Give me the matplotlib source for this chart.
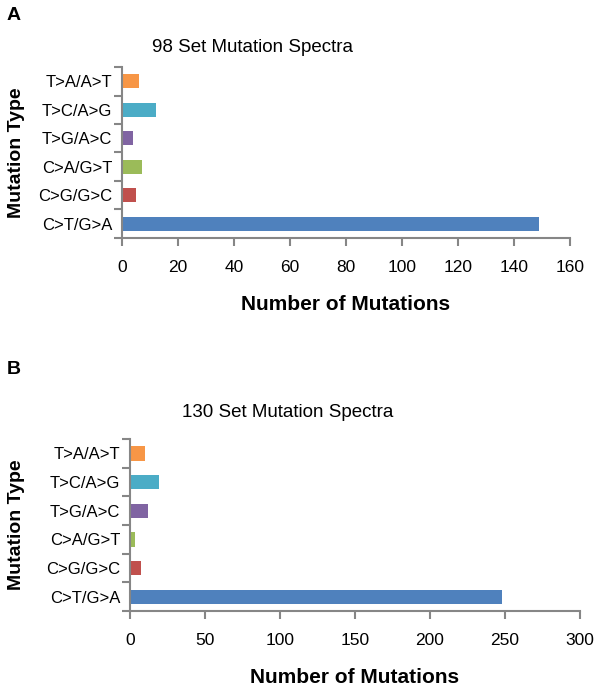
import matplotlib
matplotlib.use("Agg")
import matplotlib.pyplot as plt
import numpy as np

plt.rcParams['font.family'] = ['Liberation Sans', 'DejaVu Sans']

categories = ["C>T/G>A", "C>G/G>C", "C>A/G>T", "T>G/A>C", "T>C/A>G", "T>A/A>T"]
colors = ["#4F81BD", "#C0504D", "#9BBB59", "#8064A2", "#4BACC6", "#F79646"]
values_98 = [149, 5, 7, 4, 12, 6]
values_130 = [248, 7, 3, 12, 19, 10]
ticks_98 = [0, 20, 40, 60, 80, 100, 120, 140, 160]
ticks_130 = [0, 50, 100, 150, 200, 250, 300]

W, H = 600, 688
fig = plt.figure(figsize=(W / 100, H / 100), dpi=100)

spine_col = "#868686"

def px(x0, y0, x1, y1):
    return [x0 / W, 1 - y1 / H, (x1 - x0) / W, (y1 - y0) / H]

def panel(rect, values, xticks, title, title_x, title_y, letter, letter_y, ylab_x):
    ax = fig.add_axes(rect)
    y = np.arange(len(categories))
    ax.barh(y, values, height=0.5, color=colors)
    ax.set_xlim(xticks[0], xticks[-1])
    ax.set_ylim(-0.5, len(categories) - 0.5)
    ax.set_xticks(xticks)
    ax.set_xticklabels([str(t) for t in xticks], fontsize=12.5)
    ax.set_yticks(y)
    ax.set_yticklabels(categories, fontsize=12)
    ax.set_yticks(np.arange(-0.5, len(categories), 1.0), minor=True)
    ax.tick_params(axis='y', which='major', length=0, pad=7)
    ax.tick_params(axis='y', which='minor', length=6, width=1.5, color=spine_col, direction='out')
    ax.tick_params(axis='x', which='major', length=6, width=1.5, color=spine_col, direction='out', pad=10)
    for s in ['top', 'right']:
        ax.spines[s].set_visible(False)
    for s in ['left', 'bottom']:
        ax.spines[s].set_color(spine_col)
        ax.spines[s].set_linewidth(1.5)
    ax.set_xlabel("Number of Mutations", fontsize=15, fontweight='bold', labelpad=14)
    ax.set_ylabel("Mutation Type", fontsize=14, fontweight='bold', va='center')
    ax.yaxis.set_label_coords(ylab_x, 0.5)
    fig.text(title_x / W, 1 - title_y / H, title, fontsize=13.5,
             ha='center', va='center')
    fig.text(14 / W, 1 - letter_y / H, letter, fontsize=14, fontweight='bold',
             ha='center', va='center')
    return ax

axA = panel(px(122, 67, 570, 238), values_98, ticks_98, "98 Set Mutation Spectra", 252, 47, "A", 16, (17 - 122) / 448)
axB = panel(px(130, 439, 580, 611), values_130, ticks_130, "130 Set Mutation Spectra", 288, 413, "B", 370, (17 - 130) / 450)

fig.savefig("out.png", dpi=100)
